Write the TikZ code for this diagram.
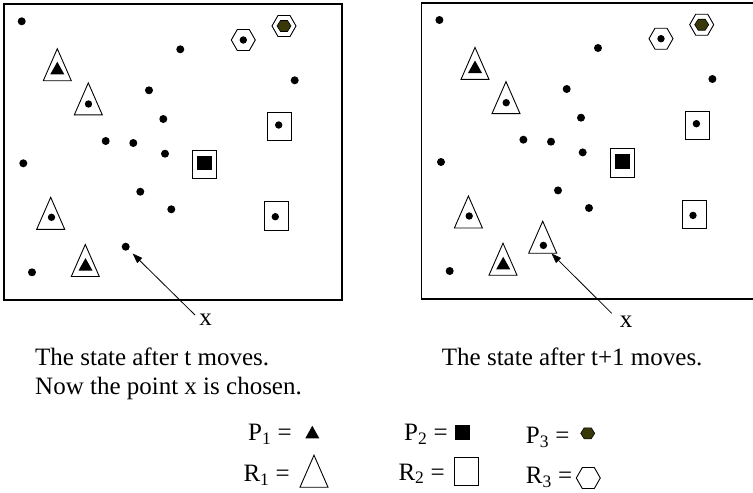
\documentclass[tikz,border=0pt]{standalone}
\usepackage{fontspec}
\setmainfont{Liberation Serif}
\usetikzlibrary{arrows.meta}

\definecolor{hexolive}{RGB}{56,56,8}

\tikzset{
    frame/.style={line width=1.2pt},
    rline/.style={line width=0.9pt},
    dot/.style={circle, fill=black, inner sep=0pt, minimum size=8pt},
    % regions R_i (outlines) and pieces P_i (filled)
    rtri/.pic={\draw[rline, fill=white] (0,-16) -- (14,16) -- (-14,16) -- cycle;},
    ptri/.pic={\fill (0,-6.5) -- (7,6) -- (-7,6) -- cycle;},
    rsq/.pic={\draw[rline, fill=white] (-12.2,-14.2) rectangle (12.2,14.2);},
    psq/.pic={\fill (-7.3,-7.3) rectangle (7.3,7.3);},
    rhex/.pic={\draw[rline, fill=white] (-12,0) -- (-6,-10.5) -- (6,-10.5)
        -- (12,0) -- (6,10.5) -- (-6,10.5) -- cycle;},
    phex/.pic={\filldraw[fill=hexolive, draw=black, line width=0.6pt] (-7,0)
        -- (-3.5,-5.5) -- (3.5,-5.5) -- (7,0) -- (3.5,5.5) -- (-3.5,5.5) -- cycle;},
}

% the board that both states share
\newcommand{\drawboard}{%
    % plain points
    \foreach \px/\py in {21.7/21.3, 180.3/49.3, 294.7/80.3, 149/90.3, 163.3/119,
        105.7/141, 133.3/143, 165/153.7, 23.3/163.3, 140.3/191.7, 171.3/209.3, 32/272.3}
        \fill (\px,\py) circle (4);
    % triangles
    \pic at (57.3,64.7) {rtri};  \pic at (57.3,68.3) {ptri};
    \pic at (88.3,98.9) {rtri};  \fill (88.5,104) circle (3.7);
    \pic at (50.7,213.3) {rtri}; \fill (51.5,217.3) circle (3.7);
    \pic at (85.3,260.5) {rtri}; \pic at (85.5,264.6) {ptri};
    % squares
    \pic at (279.5,126.7) {rsq}; \fill (278.7,125) circle (3.7);
    \pic at (204.5,164.2) {rsq}; \pic at (204.6,163) {psq};
    \pic at (276.5,215.8) {rsq}; \fill (275.3,216.7) circle (3.7);
    % hexagons
    \pic at (243.3,40) {rhex};   \fill (243.3,40) circle (3.7);
    \pic at (284,26) {rhex};     \pic at (284,26) {phex};
}

\begin{document}
\begin{tikzpicture}[x=1pt, y=-1pt, >={Triangle[length=10pt, width=7pt]},
    font=\fontsize{25}{29.5}\selectfont]

    \useasboundingbox (0,0) rectangle (753,493);

    % 1. State after t moves
    \draw[frame] (4,4) rectangle (342,300);
    \drawboard
    \node[dot] (chosenA) at (125.7,246.7) {};

    \node[anchor=base, inner sep=0pt] (xlabA) at (205.7,325) {x};
    \coordinate (tailA) at (195,315);
    \draw[->, line width=0.8pt, shorten >=5.5pt] (tailA) -- (chosenA);

    \node[anchor=base west, inner sep=0pt] (capA1) at (35,365) {The state after t moves.};
    \node[anchor=base west, inner sep=0pt] (capA2) at (35,394.5) {Now the point x is chosen.};

    % 2. State after t+1 moves (x now covered by a triangle)
    \draw[frame] (753,3) -- (421.7,3) -- (421.7,299) -- (753,299);
    \begin{scope}[shift={(417.7,-1.3)}]
        \drawboard
        \pic at (125,238.5) {rtri};
        \node[dot, minimum size=7.4pt] (chosenB) at (125.7,246.7) {};
    \end{scope}

    \node[anchor=base, inner sep=0pt] (xlabB) at (626,327.3) {x};
    \coordinate (tailB) at (611.7,313.3);
    \draw[->, line width=0.8pt, shorten >=7.5pt] (tailB) -- (chosenB);

    \node[anchor=base west, inner sep=0pt] (capB) at (441.7,365) {The state after t+1 moves.};

    % 3. Legend
    \node[anchor=base west, inner sep=0pt] (lgP1) at (248,440.7) {P\textsubscript{1} =};
    \node[anchor=base west, inner sep=0pt] (lgR1) at (243.3,481.7) {R\textsubscript{1} =};
    \node[anchor=base west, inner sep=0pt] (lgP2) at (404,440.7) {P\textsubscript{2} =};
    \node[anchor=base west, inner sep=0pt] (lgR2) at (398.3,480) {R\textsubscript{2} =};
    \node[anchor=base west, inner sep=0pt] (lgP3) at (525.7,443.3) {P\textsubscript{3} =};
    \node[anchor=base west, inner sep=0pt] (lgR3) at (525.7,483.3) {R\textsubscript{3} =};

    \pic at (312.3,432.3) {ptri};
    \pic at (314,471.2) {rtri};
    \pic at (462.7,432.3) {psq};
    \pic at (466.3,471.7) {rsq};
    \pic at (587.7,433.3) {phex};
    \pic at (588.3,478) {rhex};

\end{tikzpicture}
\end{document}
